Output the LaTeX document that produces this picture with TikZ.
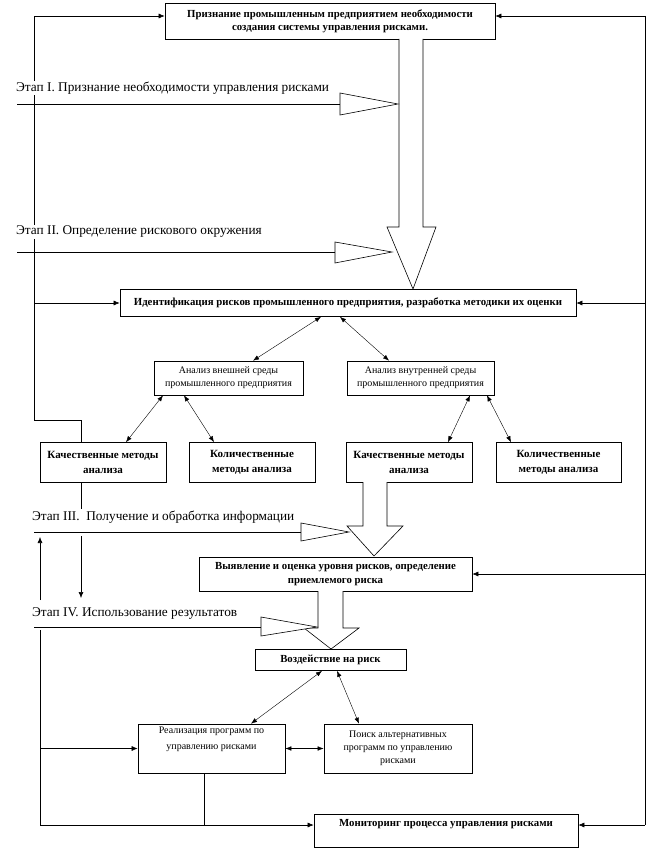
\documentclass[tikz,border=0pt]{standalone}
\usepackage{fontspec}
\setmainfont{Liberation Serif}
\usetikzlibrary{arrows.meta,calc}
\begin{document}
\begin{tikzpicture}[x=1pt,y=-1pt,
  bbox/.style={draw, line width=0.7pt, align=center, inner sep=1pt, font=\bfseries\fontsize{10.8}{13}\selectfont},
  nbox/.style={draw, line width=0.7pt, align=center, inner sep=1pt, font=\fontsize{10}{13}\selectfont},
  stage/.style={fill=white, inner sep=1pt, anchor=west, font=\fontsize{13.3}{15}\selectfont},
  arr/.style={-{Latex[length=6pt,width=5pt]}, line width=0.6pt},
  darr/.style={{Latex[length=6pt,width=4.5pt]}-{Latex[length=6pt,width=4.5pt]}, line width=0.4pt},
  big/.style={line width=0.6pt, fill=white},
  line/.style={line width=0.6pt}
]
\useasboundingbox (0,0) rectangle (648,851);

% boxes
\node[bbox, minimum width=330pt, minimum height=36pt] (top) at (330,21)
  {Признание промышленным предприятием необходимости\\создания системы управления рисками.};
\node[bbox, minimum width=456pt, minimum height=27pt] (ident) at (348,303)
  {Идентификация рисков промышленного предприятия, разработка методики их оценки};
\node[nbox, minimum width=149pt, minimum height=34pt] (vn) at (228.5,378)
  {Анализ внешней среды\\промышленного предприятия};
\node[nbox, minimum width=147pt, minimum height=34pt] (vt) at (420.5,378)
  {Анализ внутренней среды\\промышленного предприятия};
\node[bbox, font=\bfseries\fontsize{11}{15}\selectfont, minimum width=126pt, minimum height=40pt] (k1) at (103,462.5)
  {Качественные методы\\анализа};
\node[bbox, font=\bfseries\fontsize{11}{15}\selectfont, minimum width=126pt, minimum height=40pt] (q1) at (252,462.5)
  {Количественные\\методы анализа};
\node[bbox, font=\bfseries\fontsize{11}{15}\selectfont, minimum width=126pt, minimum height=40pt] (k2) at (409,462.5)
  {Качественные методы\\анализа};
\node[bbox, font=\bfseries\fontsize{11}{15}\selectfont, minimum width=125pt, minimum height=40pt] (q2) at (558.5,462.5)
  {Количественные\\методы анализа};
\node[bbox, font=\bfseries\fontsize{10.8}{14}\selectfont, minimum width=273pt, minimum height=34pt] (vyy) at (335.5,574)
  {Выявление и оценка уровня рисков, определение\\приемлемого риска};
\node[bbox, minimum width=151pt, minimum height=21pt] (vz) at (330.5,660)
  {Воздействие на риск};
\node[nbox, font=\fontsize{10}{16}\selectfont, minimum width=147pt, minimum height=49pt] (real) at (211.5,748.5)
  {Реализация программ по\\управлению рисками\\\strut};
\node[nbox, minimum width=148pt, minimum height=49pt] (poisk) at (398,748.5)
  {Поиск альтернативных\\программ по управлению\\рисками};
\node[bbox, font=\bfseries\fontsize{10.8}{11}\selectfont, minimum width=264pt, minimum height=33pt] (mon) at (446,830.5)
  {Мониторинг процесса управления рисками\\\strut};

% coordinates
\coordinate (jl) at (34,420);
\coordinate (lI) at (34,303);
\coordinate (R1) at (645,16);
\coordinate (R4) at (645,825);
\coordinate (B) at (40,825);
\coordinate (B4) at (40,630);
\coordinate (u4) at (40,600);
\coordinate (u4t) at (40,537);
\coordinate (d3) at (81,536);
\coordinate (d3b) at (81,598);
\coordinate (s1) at (17,104);
\coordinate (s2) at (17,252);
\coordinate (s3) at (34,532);
\coordinate (s4) at (34,627);

% left loop
\draw[arr] ([xshift=-21.5pt]k1.north) |- (jl) |- ([yshift=5pt]top.west);
\draw[arr] (lI) -- (ident.west);
% right loop
\draw[line] (R1) -- (R4);
\draw[arr] (R1) -- ([yshift=5pt]top.east);
\draw[arr] (R1 |- ident.east) -- (ident.east);
\draw[arr] (R1 |- vyy.east) -- (vyy.east);
\draw[arr] (R4) -- (R4 -| mon.east);
% bottom left
\draw[line] (B4) -- (B);
\draw[arr] (B) -- (B -| mon.west);
\draw[line] ([xshift=-7.5pt]real.south) -- ([xshift=-7.5pt]real.south |- B);
\draw[arr] (B |- real.west) -- (real.west);
\draw[arr] (u4) -- (u4t);
\draw[line] ([xshift=-22pt]k1.south) -- ++(0,26);
\draw[arr] (d3) -- (d3b);

% double arrows
\draw[darr] ([xshift=-27pt]ident.south) -- ([xshift=24.5pt]vn.north);
\draw[darr] ([xshift=-8pt]ident.south) -- ([xshift=-31.5pt]vt.north);
\draw[darr] ([xshift=-65.5pt]vn.south) -- ([xshift=23pt]k1.north);
\draw[darr] ([xshift=-44.5pt]vn.south) -- ([xshift=-38pt]q1.north);
\draw[darr] ([xshift=49.5pt]vt.south) -- ([xshift=39pt]k2.north);
\draw[darr] ([xshift=66.5pt]vt.south) -- ([xshift=-47.5pt]q2.north);
\draw[darr] ([xshift=-8.5pt]vz.south) -- ([xshift=39.5pt]real.north);
\draw[darr] ([xshift=6.5pt]vz.south) -- ([xshift=-39pt]poisk.north);
\draw[darr] (real.east) -- (poisk.east -| poisk.west);

% stage lines
\draw[line] (s1) -- (340,104);
\draw[line] (s2) -- (335,252);
\draw[line] (s3) -- (301,532);
\draw[line] (s4) -- (261,627);

% stage labels
\node[stage] (t1) at (15,88) {Этап I. Признание необходимости управления рисками};
\node[stage] (t2) at (15,232) {Этап II. Определение рискового окружения};
\node[stage] (t3) at (31,517) {Этап III.\ \ Получение и обработка информации};
\node[stage] (t4) at (31,614) {Этап IV. Использование результатов};

% big arrows
\draw[big] (399,39) -- (399,227) -- (387,227) -- (413,289) -- (436,227) -- (423,227) -- (423,39);
\draw[big] (363,482) -- (363,526) -- (347,526) -- (374,556) -- (403,526) -- (387,526) -- (387,482);
\draw[big] (318,591) -- (318,628) -- (304,628) -- (331,649) -- (359,628) -- (343,628) -- (343,591);

% stage triangles
\draw[big] (340,93) -- (398,104) -- (340,115) -- cycle;
\draw[big] (335,242) -- (392,252) -- (335,263) -- cycle;
\draw[big] (301,523) -- (349,532) -- (301,541) -- cycle;
\draw[big] (261,617) -- (317,627) -- (261,636) -- cycle;
\end{tikzpicture}
\end{document}
